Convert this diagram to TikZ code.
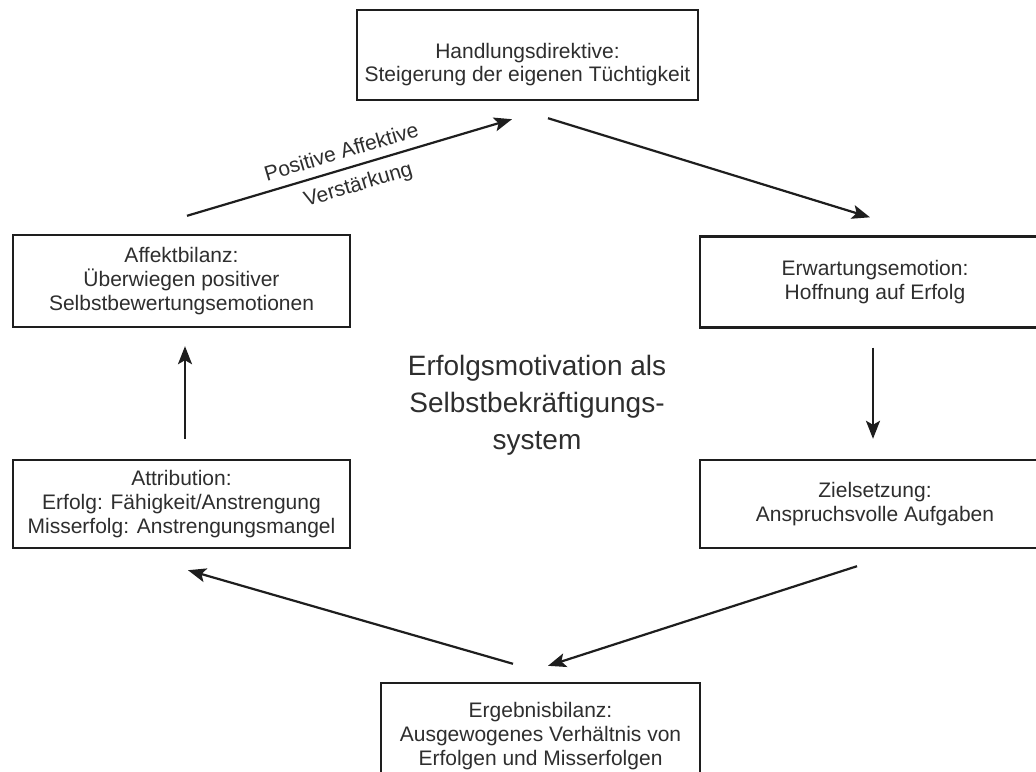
\documentclass[tikz,border=0pt]{standalone}
\usepackage{fontspec}
\setmainfont{Liberation Sans}
\usetikzlibrary{arrows.meta}
\definecolor{txt}{HTML}{2E2E2E}
\definecolor{ln}{HTML}{1E1E1E}
\tikzset{
  box/.style={draw=ln, line width=2.4pt, inner sep=0pt, align=center, text=txt,
    font=\fontsize{21}{24}\selectfont},
  arr/.style={draw=ln, line width=2.2pt, -{Stealth[length=18pt,width=14pt,inset=4pt]}},
  lbl/.style={text=txt, font=\fontsize{21}{24}\selectfont, sloped, inner sep=0pt}
}
\begin{document}
\begin{tikzpicture}[x=1pt,y=-1pt]
\clip (0,0) rectangle (1036,771);
\fill[white] (0,0) rectangle (1036,771);

\node[box, minimum width=341, minimum height=90] (top) at (527.5,55)
  {\begin{tabular}{@{}c@{}}\rule{0pt}{37pt}Handlungsdirektive:\\[-1pt] Steigerung der eigenen Tüchtigkeit\end{tabular}};
\node[box, minimum width=337, minimum height=92] (affekt) at (181.5,281)
  {Affektbilanz:\\ Überwiegen positiver\\ Selbstbewertungsemotionen};
\node[box, minimum width=337, minimum height=88] (attr) at (181.5,504)
  {Attribution:\\ Erfolg: Fähigkeit/Anstrengung\\ Misserfolg: Anstrengungsmangel};
\node[box, minimum width=350, minimum height=91] (erw) at (875,282)
  {Erwartungsemotion:\\ Hoffnung auf Erfolg};
\node[box, minimum width=350, minimum height=88] (ziel) at (875,504)
  {Zielsetzung:\\ Anspruchsvolle Aufgaben};
\node[box, minimum width=319, minimum height=106] (ergeb) at (540.5,736)
  {Ergebnisbilanz:\\ Ausgewogenes Verhältnis von\\ Erfolgen und Misserfolgen};

\node[align=center, text=txt, inner sep=0pt, font=\fontsize{28}{37}\selectfont] (title) at (537,405)
  {Erfolgsmotivation als\\ Selbstbekräftigungs-\\ system};

\draw[arr] ([shift={(20.5,17)}]top.south) -- ([shift={(-5,-18)}]erw.north);
\draw[arr] ([shift={(-2,19)}]erw.south) -- ([shift={(-2,-20)}]ziel.north);
\draw[arr] ([shift={(-18,17)}]ziel.south) -- ([shift={(7.5,-16)}]ergeb.north);
\draw[arr] ([shift={(-27.5,-18)}]ergeb.north) -- ([shift={(6.5,21)}]attr.south);
\draw[arr] ([shift={(3.5,-20)}]attr.north) -- ([shift={(3.5,18)}]affekt.south);
\draw[arr] ([shift={(5.5,-18)}]affekt.north) -- ([shift={(-15.5,18)}]top.south)
  node[lbl, pos=0.49, above=9pt] (lblA) {Positive Affektive}
  node[lbl, pos=0.51, below=9pt] (lblB) {Verstärkung};
\end{tikzpicture}
\end{document}
